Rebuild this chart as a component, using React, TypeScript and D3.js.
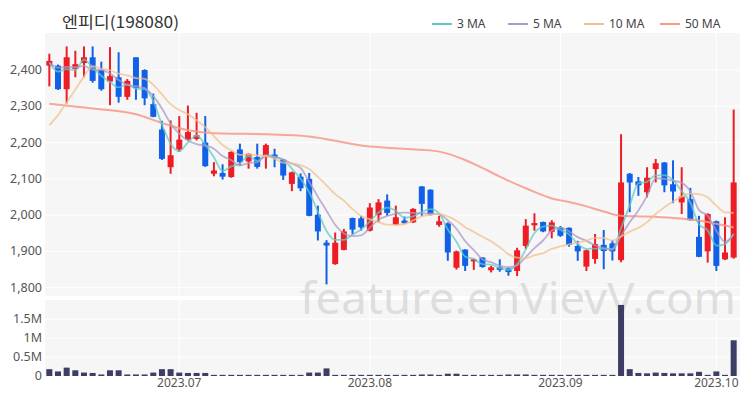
import React from 'react';
import * as d3 from 'd3';

// daily candles, 80 sessions (mid June -> early Oct 2023)
const opens = [2412, 2412, 2347, 2403, 2419, 2435, 2400, 2368, 2380, 2326, 2435, 2400, 2306, 2236, 2132, 2181, 2208, 2210, 2200, 2114,
  2116, 2105, 2181, 2148, 2160, 2160, 2167, 2153, 2086, 2106, 2100, 2001, 1924, 1865, 1904, 1992, 1991, 1957, 2000, 2040,
  1973, 1985, 1980, 2079, 2070, 1973, 1977, 1855, 1905, 1874, 1883, 1848, 1856, 1853, 1846, 1915, 1972, 1981, 1954, 1966,
  1965, 1915, 1858, 1879, 1918, 1922, 1876, 2114, 2093, 2063, 2127, 2145, 2085, 2035, 2044, 1940, 1900, 1983, 1878, 1883];
const highs = [2445, 2415, 2465, 2453, 2465, 2465, 2423, 2463, 2449, 2375, 2435, 2402, 2335, 2260, 2261, 2273, 2302, 2282, 2273, 2146,
  2140, 2176, 2197, 2170, 2197, 2197, 2183, 2155, 2120, 2115, 2116, 2026, 1931, 1952, 1962, 1993, 1998, 2033, 2044, 2057,
  2026, 1996, 2019, 2080, 2071, 1998, 1980, 1902, 1906, 1880, 1884, 1860, 1878, 1855, 1910, 1989, 2005, 1982, 1986, 1970,
  1966, 1929, 1905, 1948, 1959, 1930, 2223, 2116, 2105, 2132, 2155, 2146, 2151, 2132, 2075, 1998, 2005, 1985, 1994, 2291];
const lows = [2355, 2345, 2308, 2380, 2380, 2365, 2343, 2303, 2310, 2318, 2318, 2303, 2270, 2152, 2114, 2174, 2206, 2206, 2133, 2107,
  2098, 2103, 2137, 2128, 2128, 2128, 2132, 2097, 2066, 2066, 1997, 1930, 1809, 1863, 1903, 1946, 1957, 1955, 1980, 1998,
  1972, 1975, 1978, 1998, 1999, 1968, 1874, 1850, 1846, 1849, 1855, 1842, 1844, 1833, 1832, 1907, 1957, 1953, 1936, 1940,
  1913, 1874, 1846, 1866, 1851, 1875, 1870, 2008, 2053, 2049, 2090, 2063, 2033, 2003, 1985, 1884, 1869, 1846, 1876, 1880];
const closes = [2425, 2347, 2435, 2416, 2435, 2370, 2347, 2383, 2326, 2370, 2350, 2322, 2271, 2155, 2165, 2208, 2229, 2220, 2135, 2123,
  2106, 2174, 2146, 2169, 2133, 2193, 2157, 2109, 2118, 2074, 1998, 1955, 1916, 1924, 1955, 1960, 1966, 2021, 2035, 2006,
  1994, 1978, 2017, 2031, 2001, 1983, 1897, 1900, 1860, 1878, 1857, 1856, 1849, 1843, 1903, 1971, 1978, 1955, 1980, 1943,
  1918, 1900, 1903, 1920, 1901, 1900, 2090, 2090, 2082, 2103, 2143, 2082, 2065, 2051, 1986, 1885, 2003, 1860, 1897, 2090];
// volume in millions of shares
const volumes = [0.18, 0.12, 0.22, 0.15, 0.09, 0.08, 0.04, 0.15, 0.15, 0.04, 0.04, 0.04, 0.09, 0.18, 0.18, 0.09, 0.08, 0.08, 0.08, 0.03,
  0.03, 0.03, 0.03, 0.03, 0.03, 0.03, 0.03, 0.03, 0.03, 0.03, 0.09, 0.09, 0.2, 0.03, 0.03, 0.03, 0.03, 0.03, 0.03, 0.03,
  0.03, 0.03, 0.03, 0.04, 0.04, 0.03, 0.06, 0.06, 0.03, 0.03, 0.03, 0.03, 0.03, 0.04, 0.04, 0.04, 0.03, 0.03, 0.03, 0.03,
  0.03, 0.03, 0.03, 0.03, 0.03, 0.03, 1.87, 0.18, 0.08, 0.07, 0.09, 0.08, 0.07, 0.07, 0.07, 0.11, 0.03, 0.12, 0.03, 0.94];
// closes before the visible window, needed to seed the short MAs
const priorCloses = [2070, 2085, 2060, 2080, 2085, 2415, 2425, 2420, 2415];
// 50 MA at sample sessions
const ma50Index = [0, 5, 10, 13, 16, 18, 20, 25, 30, 36, 40, 43, 45, 48, 50, 52, 55, 58, 60, 62, 64, 66, 69, 72, 75, 77, 79];
const ma50Values = [2307, 2294, 2278, 2254, 2234, 2228, 2225, 2223, 2217, 2192, 2184, 2180, 2175, 2152, 2130, 2106, 2074, 2046, 2036, 2024, 2010, 1998, 1996, 1992, 1985, 1976, 1966];

const tickLabels = ['2023.07', '2023.08', '2023.09', '2023.10'];
const tickIndex = [15, 37, 59, 77];
const priceTicks = [1800, 1900, 2000, 2100, 2200, 2300, 2400];
const volTicks = [0, 0.5, 1, 1.5];

const maPeriods = [3, 5, 10];
const legendNames = ['3 MA', '5 MA', '10 MA', '50 MA'];
const maColors = ['#5fcbc4', '#a99ac6', '#f2c08e', '#f59a86'];

const UP = '#ee1c24';
const DOWN = '#1060e8';
const font = '"Noto Sans", "Noto Sans CJK KR", sans-serif';

function movingAverage(period: number) {
  const all = priorCloses.concat(closes);
  return closes.map((_, i) => {
    const end = i + priorCloses.length;
    return d3.mean(all.slice(end - period + 1, end + 1)) as number;
  });
}

export default function App() {
  const W = 750, H = 400;
  const left = 45, right = 738;
  const idx = d3.range(closes.length);
  const x = d3.scaleBand<number>().domain(idx).range([left, right]);
  const cx = (i: number) => (x(i) as number) + x.bandwidth() / 2;
  const y = d3.scaleLinear().domain([1777, 2502]).range([296, 33]);
  const yv = d3.scaleLinear().domain([0, 2]).range([376, 300]);
  const bodyW = 6;

  const line = d3.line<number>()
    .x((_, i) => cx(i))
    .y(d => y(d))
    .curve(d3.curveMonotoneX);
  const line50 = d3.line<number>()
    .x((_, i) => cx(ma50Index[i]))
    .y(d => y(d))
    .curve(d3.curveMonotoneX);

  const maSeries = maPeriods.map(p => movingAverage(p));

  const legendX = [432, 508, 584, 660];

  return (
    <svg width={W} height={H} style={{ position: 'absolute', left: 0, top: 0, background: '#fff' }} fontFamily={font}>
      <text x={62} y={28} fontSize={16} fill="#333" textLength={117} lengthAdjust="spacingAndGlyphs"
        fontFamily='"Noto Sans CJK KR", sans-serif'>엔피디(198080)</text>

      {legendNames.map((n, i) => (
        <g key={n}>
          <line x1={legendX[i]} x2={legendX[i] + 20} y1={24} y2={24} stroke={maColors[i]} strokeWidth={2} />
          <text x={legendX[i] + 25} y={28} fontSize={12} fill="#444">{n}</text>
        </g>
      ))}

      <rect x={left} y={33} width={740 - left} height={263} fill="#f6f6f6" />
      <rect x={left} y={300} width={740 - left} height={76} fill="#f6f6f6" />

      {priceTicks.map(t => (
        <g key={t}>
          <line x1={left} x2={740} y1={y(t)} y2={y(t)} stroke="#fff" strokeWidth={1} />
          <text x={42} y={y(t) + 4} fontSize={12.5} fill="#555" textAnchor="end">{d3.format(',')(t)}</text>
        </g>
      ))}
      {volTicks.map(t => (
        <g key={t}>
          <line x1={left} x2={740} y1={yv(t)} y2={yv(t)} stroke="#fff" strokeWidth={1} />
          <text x={42} y={yv(t) + 4} fontSize={12.5} fill="#555" textAnchor="end">{t === 0 ? '0' : t + 'M'}</text>
        </g>
      ))}
      {tickIndex.map((ti, i) => (
        <g key={ti}>
          <line x1={cx(ti)} x2={cx(ti)} y1={33} y2={296} stroke="#fff" strokeWidth={1} />
          <line x1={cx(ti)} x2={cx(ti)} y1={300} y2={376} stroke="#fff" strokeWidth={1} />
          <text x={cx(ti)} y={387} fontSize={12} fill="#555" textAnchor="middle">{tickLabels[i]}</text>
        </g>
      ))}

      <text x={300} y={314} fontSize={44} fill="#d2d2d2" fillOpacity={0.7} textLength={436} lengthAdjust="spacingAndGlyphs"
        fontFamily='"Noto Sans", sans-serif'>feature.enVievV.com</text>

      {volumes.map((v, i) => (
        <rect key={i} x={cx(i) - 3} y={yv(v)} width={6} height={yv(0) - yv(v)} fill="#3d3d66" />
      ))}

      {idx.map(i => {
        const up = closes[i] >= opens[i];
        const c = up ? UP : DOWN;
        const top = y(Math.max(opens[i], closes[i]));
        const bot = y(Math.min(opens[i], closes[i]));
        return (
          <g key={i}>
            <line x1={cx(i)} x2={cx(i)} y1={y(highs[i])} y2={y(lows[i])} stroke={c} strokeWidth={2} />
            <rect x={cx(i) - bodyW / 2} y={top} width={bodyW} height={Math.max(2, bot - top)} fill={c} />
          </g>
        );
      })}

      <path d={line50(ma50Values) || ''} fill="none" stroke={maColors[3]} strokeWidth={2} strokeOpacity={0.85} />
      {maSeries.map((s, k) => (
        <path key={k} d={line(s) || ''} fill="none" stroke={maColors[k]} strokeWidth={1.8} strokeOpacity={0.75} />
      ))}
    </svg>
  );
}
